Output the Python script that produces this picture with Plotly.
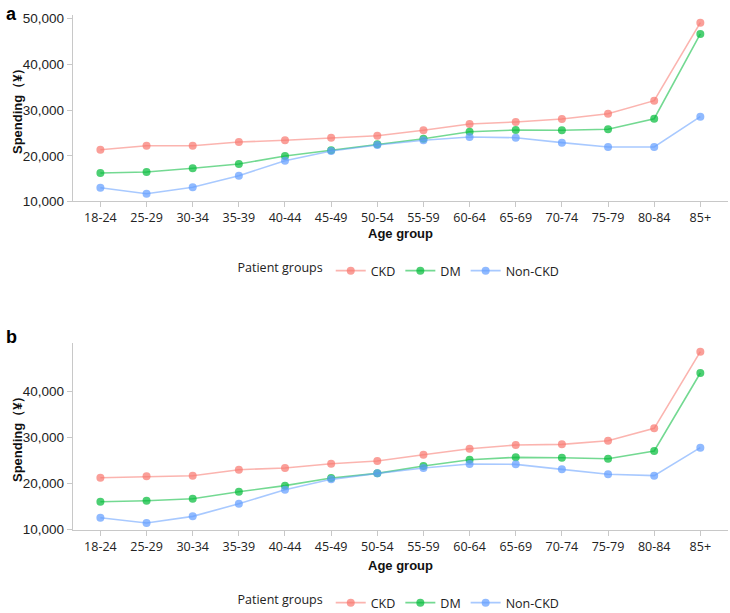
import plotly.graph_objects as go

age_groups = ["18-24", "25-29", "30-34", "35-39", "40-44", "45-49", "50-54",
              "55-59", "60-64", "65-69", "70-74", "75-79", "80-84", "85+"]

ckd_a = [21330, 22210, 22210, 23020, 23390, 23960, 24400, 25580, 26960, 27400, 28050, 29210, 32060, 49120]
dm_a = [16240, 16455, 17260, 18200, 19960, 21200, 22520, 23740, 25270, 25650, 25580, 25800, 28120, 46650]
non_a = [13020, 11710, 13100, 15650, 18930, 21050, 22360, 23390, 24110, 23960, 22870, 21930, 21930, 28560]

ckd_b = [21220, 21520, 21660, 22960, 23330, 24260, 24840, 26210, 27510, 28310, 28450, 29240, 31930, 48530]
dm_b = [16020, 16240, 16680, 18190, 19500, 21160, 22170, 23760, 25130, 25640, 25560, 25340, 27010, 43910]
non_b = [12560, 11410, 12850, 15590, 18620, 20870, 22170, 23330, 24190, 24120, 23040, 21960, 21670, 27730]

groups = ["CKD", "DM", "Non-CKD"]
line_cols = ["rgba(248,118,109,0.55)", "rgba(0,186,56,0.55)", "rgba(97,156,255,0.55)"]
mark_cols = ["rgba(248,118,109,0.7)", "rgba(0,186,56,0.7)", "rgba(97,156,255,0.7)"]

fig = go.Figure()
panels = [([ckd_a, dm_a, non_a], "x", "y", "legend"),
          ([ckd_b, dm_b, non_b], "x2", "y2", "legend2")]
for series, xa, ya, lg in panels:
    for name, vals, lc, mc in zip(groups, series, line_cols, mark_cols):
        fig.add_trace(go.Scatter(
            x=age_groups, y=vals, name=name, mode="lines+markers",
            line=dict(color=lc, width=1.6),
            marker=dict(color=mc, size=8),
            xaxis=xa, yaxis=ya, legend=lg, hoverinfo="skip"))

axis_common = dict(showline=True, linecolor="#c8c8c8", linewidth=1,
                   ticks="outside", ticklen=5, tickcolor="#c8c8c8",
                   showgrid=False, zeroline=False, automargin=False)
xfont = dict(family="Open Sans, Noto Sans, sans-serif", size=12.5, color="#222")
yfont = dict(family="Liberation Sans, Arial, sans-serif", size=13.5, color="#222")
legfont = dict(family="Open Sans, Noto Sans, sans-serif", size=12.5, color="#222")

def legend_cfg(yc):
    return dict(orientation="h", x=0.548, xanchor="center", y=yc, yanchor="middle",
                title=dict(text="Patient groups", side="left", font=legfont),
                font=legfont, itemwidth=30, tracegroupgap=0, valign="middle",
                bgcolor="rgba(0,0,0,0)")

fig.update_layout(
    width=730, height=613,
    margin=dict(l=0, r=0, t=0, b=0, autoexpand=False),
    paper_bgcolor="white", plot_bgcolor="white",
    showlegend=True,
    xaxis=dict(domain=[0.0996, 0.9973], range=[-0.6, 13.6], anchor="y",
               tickfont=xfont, **axis_common),
    xaxis2=dict(domain=[0.0996, 0.9973], range=[-0.6, 13.6], anchor="y2",
                tickfont=xfont, **axis_common),
    yaxis=dict(domain=[0.6713, 0.9755], range=[10000, 50800], anchor="x",
               tickvals=[10000, 20000, 30000, 40000, 50000], tickformat=",d",
               tickfont=yfont, **axis_common),
    yaxis2=dict(domain=[0.1362, 0.4400], range=[10000, 50350], anchor="x2",
                tickvals=[10000, 20000, 30000, 40000], tickformat=",d",
                tickfont=yfont, **axis_common),
    legend=legend_cfg(1 - 271/613),
    legend2=legend_cfg(1 - 603/613),
)

title_font = dict(family="Liberation Sans, Arial, sans-serif", size=13, color="#111")
ann = [
    dict(text="<b>a</b>", x=4/730, y=1-14/613, xanchor="left", font=dict(family="Liberation Sans, Arial", size=18, color="black")),
    dict(text="<b>b</b>", x=4/730, y=1-337/613, xanchor="left", font=dict(family="Liberation Sans, Arial", size=18, color="black")),
    dict(text="<b>Spending（¥）</b>", x=18/730, y=1-108/613, textangle=-90, font=title_font),
    dict(text="<b>Spending（¥）</b>", x=18/730, y=1-436/613, textangle=-90, font=title_font),
    dict(text="<b>Age group</b>", x=400/730, y=1-233/613, font=title_font),
    dict(text="<b>Age group</b>", x=400/730, y=1-565/613, font=title_font),
]
for a in ann:
    a.setdefault("xanchor", "center")
    a.update(xref="paper", yref="paper", showarrow=False, yanchor="middle")
    fig.add_annotation(**a)

fig.write_html("out.html", config={"displayModeBar": False},
               post_script="document.body.style.margin='0';document.body.style.overflow='hidden';")
